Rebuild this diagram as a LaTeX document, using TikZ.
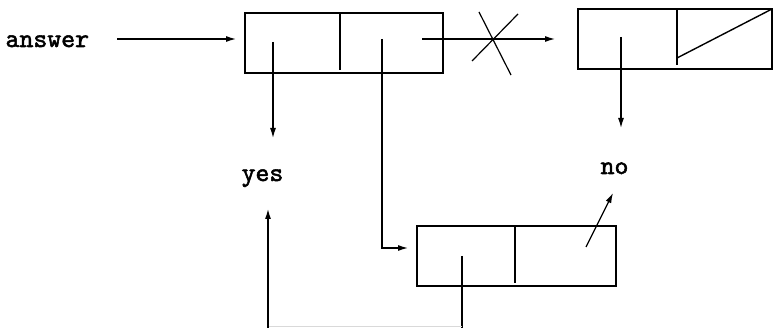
\documentclass[tikz,border=0pt]{standalone}
\usepackage{fontspec}
\newfontfamily\ttbold{lmmono10-regular.otf}[FakeBold=2]
\usetikzlibrary{arrows.meta}
\begin{document}
\begin{tikzpicture}[x=1pt,y=-1pt,line width=1.2pt,
  cell/.style={draw,line width=1.4pt,inner sep=0pt,outer sep=0pt,anchor=north west,minimum height=60pt},
  lbl/.style={font=\fontsize{26.5}{26.5}\selectfont\ttbold,inner sep=0pt,anchor=base west},
  ptr/.style={line width=1.2pt,-{Latex[length=10pt,width=6pt]}},
  divider/.style={line width=1.4pt}]
\useasboundingbox (0,0) rectangle (773,328);
% labels
\node[lbl] (answer) at (5,47) {answer};
\node[lbl] (yes) at (241,181) {yes};
\node[lbl] (no) at (600,174) {no};
% cells
\node[cell,minimum width=198pt] (b1) at (245,13) {};
\node[cell,minimum width=194pt] (b2) at (578,9) {};
\node[cell,minimum width=199pt] (b3) at (417,226) {};
\draw[divider] (b1.north west) ++(95,0) coordinate (d1) -- ++(0,57);
\draw[divider] (b2.north west) ++(99,0) coordinate (d2) -- ++(0,56);
\draw[divider] (d2) ++(0,49) -- (b2.north east);
\draw[divider] (b3.north west) ++(98,0) coordinate (d3) -- ++(0,57);
% pointer coordinates
\coordinate (a0) at (117,39);
\coordinate (p1) at (273,42);
\coordinate (t1) at (273,138);
\coordinate (p2) at (382,39);
\coordinate (t2) at (408,248);
\coordinate (p3) at (422,39);
\coordinate (t3) at (555,39);
\coordinate (p4) at (621,37);
\coordinate (t4) at (621,128);
\coordinate (p5) at (586,247);
\coordinate (t5) at (613,193);
\coordinate (p6) at (462,256);
\coordinate (q6) at (462,328);
\coordinate (q7) at (268,328);
\coordinate (t7) at (268,209);
% connectors
\draw[ptr,shorten >=9pt] (a0) -- (a0 -| b1.west);
\draw[ptr] (p1) -- (t1);
\draw[ptr] (p2) |- (t2);
\draw[ptr] (p3) -- (t3);
\draw (472,61) -- (518,14);
\draw (479,12) -- (511,75);
\draw[ptr] (p4) -- (t4);
\draw[ptr] (p5) -- (t5);
\draw (p6) -- (q6);
\draw[gray!30,line width=0.8pt] (462,326.5) -- (268,326.5);
\draw[ptr] (q7) -- (t7);
\end{tikzpicture}
\end{document}
